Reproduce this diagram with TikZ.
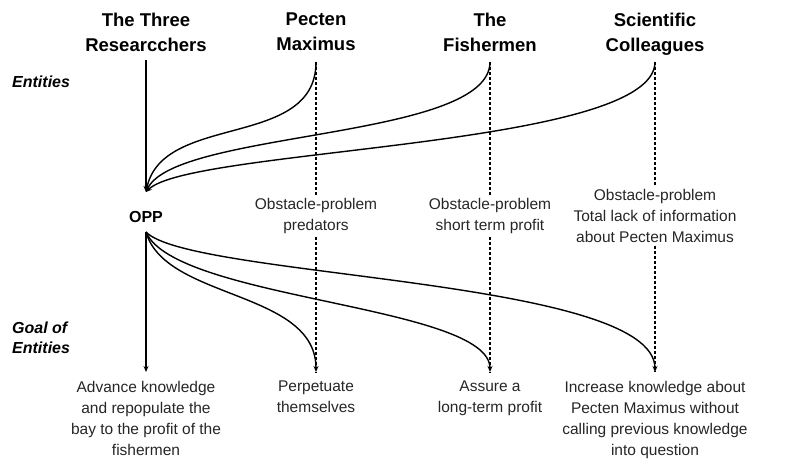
\documentclass[tikz,border=0pt]{standalone}
\usepackage{fontspec}
\setsansfont{Liberation Sans}
\usetikzlibrary{arrows.meta}

\begin{document}
\begin{tikzpicture}[
  x=1pt, y=-1pt,
  actor/.style={align=center, anchor=north, inner sep=0pt, font=\sffamily\bfseries\fontsize{18.5}{25}\selectfont},
  note/.style={align=center, inner sep=3pt, text=black!85, font=\sffamily\fontsize{15.5}{21}\selectfont},
  aim/.style={align=center, anchor=north, inner sep=9pt, text=black!85, font=\sffamily\fontsize{15.5}{21}\selectfont},
  side/.style={align=left, anchor=west, inner sep=0pt, font=\sffamily\bfseries\itshape\fontsize{16}{20}\selectfont},
  link/.style={line width=1.4pt, -{Stealth[length=6pt,width=5pt]}},
  guide/.style={densely dashed, line width=1.1pt}
]
\useasboundingbox (0,0) rectangle (798,462);

% entities
\node[actor] (res) at (146,12.5) {The Three\\Researcchers};
\node[actor] (pm) at (316,12.5) {Pecten\\Maximus};
\node[actor] (fm) at (490,12.5) {The\\Fishermen};
\node[actor] (sc) at (655,12.5) {Scientific\\Colleagues};

\node[side] (ent) at (12,82) {Entities};
\node[side] (goal) at (12,338) {Goal of\\Entities};

\coordinate (res-top) at (146,60);
\coordinate (pm-top) at (316,62);
\coordinate (fm-top) at (490,62);
\coordinate (sc-top) at (655,62);

% obligatory passage point
\node[inner sep=0pt, font=\sffamily\bfseries\fontsize{16}{20}\selectfont] (opp) at (146,217) {OPP};
\coordinate (opp-in) at (146,192);
\coordinate (opp-out) at (146,232);

% obstacles
\node[note] (pm-obs) at (316,216) {Obstacle-problem\\predators};
\node[note] (fm-obs) at (490,216) {Obstacle-problem\\short term profit};
\node[note] (sc-obs) at (655,216) {Obstacle-problem\\Total lack of information\\about Pecten Maximus};

% goals
\node[aim] (res-aim) at (146,372) {Advance knowledge\\and repopulate the\\bay to the profit of the\\fishermen};
\node[aim] (pm-aim) at (316,372) {Perpetuate\\themselves};
\node[aim] (fm-aim) at (490,372) {Assure a\\long-term profit};
\node[aim] (sc-aim) at (655,372) {Increase knowledge about\\Pecten Maximus without\\calling previous knowledge\\into question};

\draw[guide] (pm-top) -- (pm-obs.north);
\draw[guide] (fm-top) -- (fm-obs.north);
\draw[guide] (sc-top) -- (sc-obs.north);
\draw[guide] (pm-obs.south) -- (pm-aim.north);
\draw[guide] (fm-obs.south) -- (fm-aim.north);
\draw[guide] (sc-obs.south) -- (sc-aim.north);

\draw[link] (res-top) -- (opp-in);
\draw[link] (pm-top) .. controls (316,150) and (162,112) .. (opp-in);
\draw[link] (fm-top) .. controls (490,140) and (175,130) .. (opp-in);
\draw[link] (sc-top) .. controls (655,148) and (190,148) .. (opp-in);

\draw[link] (opp-out) -- (res-aim.north);
\draw[link] (opp-out) .. controls (165,300) and (316,290) .. (pm-aim.north);
\draw[link] (opp-out) .. controls (175,300) and (490,305) .. (fm-aim.north);
\draw[link] (opp-out) .. controls (190,278) and (655,278) .. (sc-aim.north);
\end{tikzpicture}
\end{document}
